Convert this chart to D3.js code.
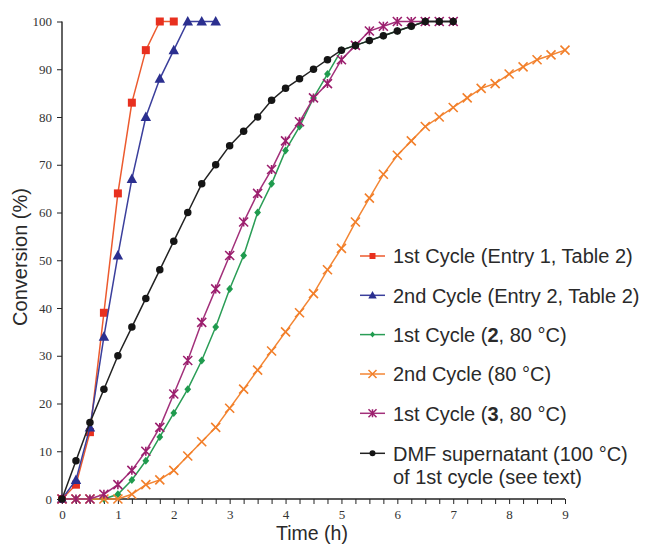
<!DOCTYPE html>
<html><head><meta charset="utf-8">
<script src="https://cdn.jsdelivr.net/npm/d3@7"></script>
<style>body{margin:0;background:#fff}svg{display:block}</style>
</head><body>
<svg id="c" width="645" height="546"></svg>
<script>
// ---- data ----
const timeStep = 0.25;
const red    = [0,3,14,39,64,83,94,100,100];                                  // 1st Cycle (Entry 1, Table 2)
const blue   = [0,4,15,34,51,67,80,88,94,100,100,100];                         // 2nd Cycle (Entry 2, Table 2)
const green  = [0,0,0,0,1,4,8,13,18,23,29,36,44,51,60,66,73,78,84,89,94,95,96,97,98,99,100,100,100];
const orange = [0,0,0,0,0,1,3,4,6,9,12,15,19,23,27,31,35,39,43,48,52.5,58,63,68,72,75,78,80,82,84,86,87,89,90.5,92,93,94];
const purple = [0,0,0,1,3,6,10,15,22,29,37,44,51,58,64,69,75,79,84,87,92,95,98,99,100,100,100,100,100];
const black  = [0,8,16,23,30,36,42,48,54,60,66,70,74,77,80,83.5,86,88,90,92,94,95,96,97,98,99,100,100,100];
const xTicks = [0,1,2,3,4,5,6,7,8,9];
const yTicks = [0,10,20,30,40,50,60,70,80,90,100];
const seriesNames = [
  ["1st Cycle (Entry 1, Table 2)"],
  ["2nd Cycle (Entry 2, Table 2)"],
  ["1st Cycle (", "2", ", 80 °C)"],
  ["2nd Cycle (80 °C)"],
  ["1st Cycle (", "3", ", 80 °C)"],
  ["DMF supernatant (100 °C)", "of 1st cycle (see text)"]
];

const series = [
  {vals: red,    color: "#e8301f", line: "#ec5a2e", marker: "square"},
  {vals: blue,   color: "#2b2f8f", line: "#3b3f9c", marker: "triangle"},
  {vals: green,  color: "#1f9b4e", line: "#2a9d56", marker: "diamond"},
  {vals: orange, color: "#f27f2a", line: "#f38634", marker: "x"},
  {vals: purple, color: "#9c1f6e", line: "#a2307a", marker: "star"},
  {vals: black,  color: "#151515", line: "#222222", marker: "circle"}
];

const svg = d3.select("#c");
const x = d3.scaleLinear().domain([0,9]).range([62,565]);
const y = d3.scaleLinear().domain([0,100]).range([499,21.5]);

function markerPath(type, s) {
  const h = s/2;
  switch(type) {
    case "square": return `M${-h},${-h}H${h}V${h}H${-h}Z`;
    case "triangle": return `M0,${-h*1.1}L${h*1.05},${h*0.8}L${-h*1.05},${h*0.8}Z`;
    case "diamond": return `M0,${-h}L${h*0.85},0L0,${h}L${-h*0.85},0Z`;
    case "circle": return d3.symbol(d3.symbolCircle, Math.PI*h*h)();
    case "x": return `M${-h},${-h}L${h},${h}M${-h},${h}L${h},${-h}`;
    case "star": return `M${-h},${-h}L${h},${h}M${-h},${h}L${h},${-h}M0,${-h}V${h}`;
  }
}
const plotSize = {square:8, triangle:10, diamond:8, circle:7.5, x:9, star:9};
const legSize = {square:6, triangle:8, diamond:6, circle:6, x:8, star:8};

// axes
const yAxis = d3.axisLeft(y).tickValues(yTicks).tickSize(5).tickPadding(5).tickFormat(d3.format("d"));
const gy = svg.append("g").attr("transform","translate(62,0)").call(yAxis);
const xAxis = d3.axisBottom(x).tickValues(xTicks).tickSize(5).tickPadding(6).tickFormat(d3.format("d"));
const gx = svg.append("g").attr("transform","translate(0,499)").call(xAxis);
const minor = d3.range(0, 9.001, 0.25).filter(v => Math.abs(v - Math.round(v)) > 1e-6);
svg.append("g").attr("transform","translate(0,499)")
  .call(d3.axisBottom(x).tickValues(minor).tickSize(5).tickFormat(""))
  .call(g => g.select(".domain").remove());
[gx, gy].forEach(g => {
  g.select(".domain").attr("stroke","#222").attr("stroke-width",1.4);
  g.selectAll(".tick line").attr("stroke","#222").attr("stroke-width",1);
  g.selectAll(".tick text").attr("font-family","'Liberation Serif', 'DejaVu Serif', serif")
    .attr("font-size",13).attr("fill","#333");
});
svg.selectAll(".tick line").attr("stroke","#222");
gy.select(".domain").attr("d","M0,21.5V499");
gx.select(".domain").attr("d","M62,0H565");

// series
const line = d3.line().x((d,i)=>x(i*timeStep)).y(d=>y(d));
series.forEach(s => {
  const g = svg.append("g");
  g.append("path").datum(s.vals).attr("d", line).attr("fill","none")
    .attr("stroke", s.line).attr("stroke-width",1.5);
  const isStroke = (s.marker === "x" || s.marker === "star");
  g.selectAll("path.m").data(s.vals).join("path").attr("class","m")
    .attr("transform",(d,i)=>`translate(${x(i*timeStep)},${y(d)})`)
    .attr("d", markerPath(s.marker, plotSize[s.marker]))
    .attr("fill", isStroke ? "none" : s.color)
    .attr("stroke", isStroke ? s.color : "none")
    .attr("stroke-width", isStroke ? 1.6 : 0);
});

// legend
const legY = [256, 295.3, 334.6, 374, 413.3, 453.3];
const lg = svg.append("g");
series.forEach((s, k) => {
  const yy = legY[k];
  lg.append("line").attr("x1",360).attr("x2",385).attr("y1",yy).attr("y2",yy)
    .attr("stroke", s.line).attr("stroke-width",1.5);
  const isStroke = (s.marker === "x" || s.marker === "star");
  lg.append("path").attr("transform",`translate(372.5,${yy})`)
    .attr("d", markerPath(s.marker, legSize[s.marker]))
    .attr("fill", isStroke ? "none" : s.color)
    .attr("stroke", isStroke ? s.color : "none").attr("stroke-width", isStroke ? 1.5 : 0);
  const name = seriesNames[k];
  const t = lg.append("text").attr("x",393).attr("y",yy).attr("dy","0.36em")
    .attr("font-family","'Liberation Sans', Arial, sans-serif").attr("font-size",20).attr("fill","#2a2a2a");
  if (k === 5) {
    t.text(name[0]);
    lg.append("text").attr("x",393).attr("y",yy+23.5).attr("dy","0.36em")
      .attr("font-family","'Liberation Sans', Arial, sans-serif").attr("font-size",20).attr("fill","#2a2a2a")
      .text(name[1]);
  } else if (name.length === 3) {
    t.append("tspan").text(name[0]);
    t.append("tspan").attr("font-weight","bold").text(name[1]);
    t.append("tspan").text(name[2]);
  } else {
    t.text(name[0]);
  }
});

// axis titles
svg.append("text").attr("x",312).attr("y",540).attr("text-anchor","middle")
  .attr("font-family","'Liberation Sans', Arial, sans-serif").attr("font-size",19.5).attr("fill","#2a2a2a")
  .text("Time (h)");
svg.append("text").attr("transform","translate(27,257) rotate(-90)").attr("text-anchor","middle")
  .attr("font-family","'Liberation Sans', Arial, sans-serif").attr("font-size",20).attr("fill","#2a2a2a")
  .text("Conversion (%)");
</script>
</body></html>
